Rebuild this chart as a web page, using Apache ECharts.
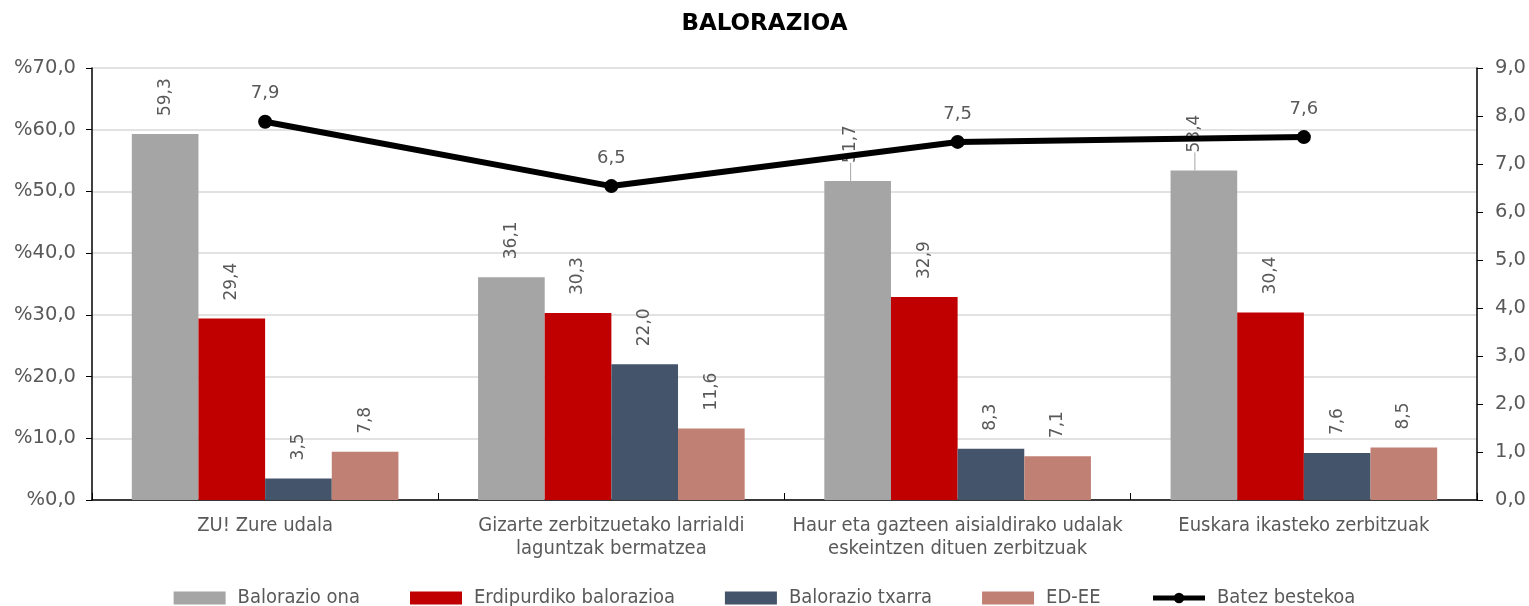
<!DOCTYPE html>
<html>
<head>
<meta charset="utf-8">
<script src="https://cdn.jsdelivr.net/npm/echarts@6/dist/echarts.min.js"></script>
<style>
  html, body { margin: 0; padding: 0; background: #fff; }
  #chart { width: 1529px; height: 606px; }
</style>
</head>
<body>
<div id="chart"></div>
<script>
const categories = [
  'ZU! Zure udala',
  'Gizarte zerbitzuetako larrialdi\nlaguntzak bermatzea',
  'Haur eta gazteen aisialdirako udalak\neskeintzen dituen zerbitzuak',
  'Euskara ikasteko zerbitzuak'
];
const onaValues = [59.3, 36.1, 51.7, 53.4];
const erdipurdikoValues = [29.4, 30.3, 32.9, 30.4];
const txarraValues = [3.5, 22.0, 8.3, 7.6];
const edeeValues = [7.8, 11.6, 7.1, 8.5];
const batezValues = [7.88, 6.54, 7.46, 7.56];
const leftTicks = [0, 10, 20, 30, 40, 50, 60, 70];
const rightTicks = [0, 1, 2, 3, 4, 5, 6, 7, 8, 9];

const fmt = v => v.toFixed(1).replace('.', ',');
const textColor = '#595959';
const axisFont = 'DejaVu Sans';
const condFont = 'DejaVu Sans Condensed';

// labels Excel pushed up a little, with a leader line (dataIndex -> extra px)
const movedOna = { 2: 7, 3: 9 };

function barSeries(name, values, color, moved) {
  return {
    name: name,
    type: 'bar',
    yAxisIndex: 0,
    data: values.map((v, i) => moved && moved[i]
      ? { value: v, labelLine: { show: true, lineStyle: { color: '#a5a5a5', width: 1 } } }
      : v),
    barGap: '0%',
    barCategoryGap: '23%',
    itemStyle: { color: color },
    label: {
      show: true,
      position: 'top',
      rotate: 90,
      align: 'left',
      verticalAlign: 'middle',
      distance: 18,
      color: textColor,
      fontFamily: axisFont,
      fontSize: 17,
      formatter: p => fmt(p.value)
    },
    labelLayout: moved ? function (params) {
      if (moved[params.dataIndex]) return { dy: -moved[params.dataIndex] };
      return {};
    } : undefined
  };
}

const chart = echarts.init(document.getElementById('chart'));
chart.setOption({
  animation: false,
  title: {
    text: 'BALORAZIOA',
    left: 'center',
    top: 8,
    textStyle: { fontFamily: axisFont, fontSize: 23, fontWeight: 'bold', color: '#000' }
  },
  legend: {
    top: 583,
    left: 'center',
    itemWidth: 52,
    itemHeight: 13,
    itemGap: 50,
    textStyle: { fontFamily: condFont, fontSize: 20, color: textColor, padding: [0, 0, 0, 7] },
    data: [
      { name: 'Balorazio ona', icon: 'rect' },
      { name: 'Erdipurdiko balorazioa', icon: 'rect' },
      { name: 'Balorazio txarra', icon: 'rect' },
      { name: 'ED-EE', icon: 'rect' },
      { name: 'Batez bestekoa', lineStyle: { width: 5 } }
    ]
  },
  grid: { left: 92, right: 52, top: 68, bottom: 106 },
  xAxis: {
    type: 'category',
    data: categories,
    axisLine: { lineStyle: { color: '#000', width: 1.5 } },
    axisTick: { show: true, inside: true, interval: 0, length: 7, lineStyle: { color: '#000' } },
    axisLabel: { interval: 0, color: textColor, fontFamily: condFont, fontSize: 20, lineHeight: 23, margin: 14 }
  },
  yAxis: [
    {
      type: 'value',
      min: leftTicks[0],
      max: leftTicks[leftTicks.length - 1],
      interval: 10,
      axisLine: { show: true, lineStyle: { color: '#000', width: 1.5 } },
      axisTick: { show: true, length: 6, lineStyle: { color: '#000' } },
      axisLabel: { color: textColor, fontFamily: axisFont, fontSize: 19.5, margin: 16, formatter: v => '%' + fmt(v) },
      splitLine: { lineStyle: { color: '#d9d9d9', width: 1.5 } }
    },
    {
      type: 'value',
      min: rightTicks[0],
      max: rightTicks[rightTicks.length - 1],
      interval: 1,
      position: 'right',
      axisLine: { show: true, lineStyle: { color: '#000', width: 1.5 } },
      axisTick: { show: true, length: 6, lineStyle: { color: '#000' } },
      axisLabel: { color: textColor, fontFamily: axisFont, fontSize: 19.5, margin: 18, formatter: v => fmt(v) },
      splitLine: { show: false }
    }
  ],
  series: [
    barSeries('Balorazio ona', onaValues, '#a5a5a5', movedOna),
    barSeries('Erdipurdiko balorazioa', erdipurdikoValues, '#c00000'),
    barSeries('Balorazio txarra', txarraValues, '#44546a'),
    barSeries('ED-EE', edeeValues, '#c08073'),
    {
      name: 'Batez bestekoa',
      type: 'line',
      yAxisIndex: 1,
      data: batezValues,
      z: 5,
      symbol: 'circle',
      symbolSize: 14,
      itemStyle: { color: '#000' },
      lineStyle: { color: '#000', width: 6 },
      label: {
        show: true,
        position: 'top',
        distance: 12,
        color: textColor,
        fontFamily: axisFont,
        fontSize: 18,
        formatter: p => fmt(p.value)
      }
    }
  ]
});
</script>
</body>
</html>
